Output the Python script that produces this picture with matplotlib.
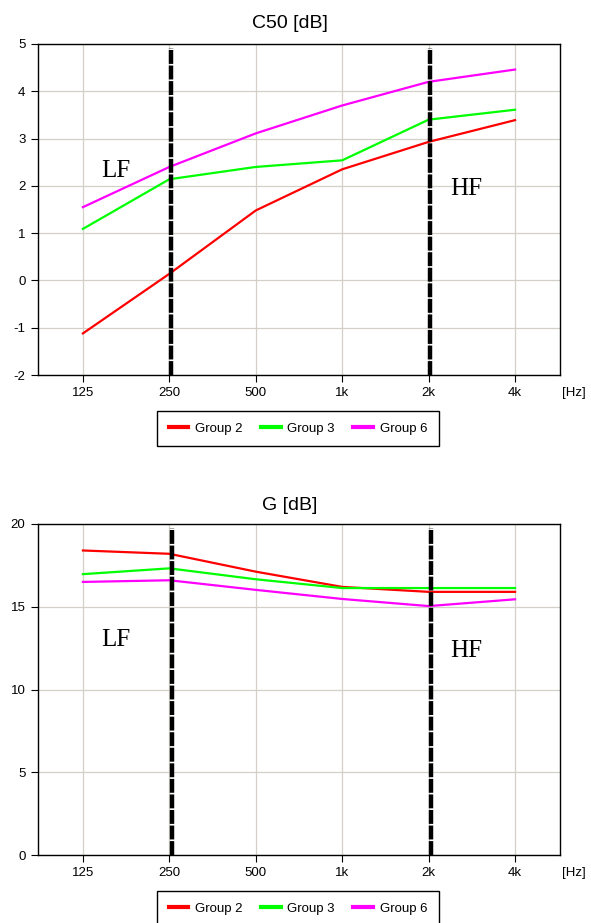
import matplotlib
matplotlib.use('Agg')
from matplotlib import pyplot as plt

plt.rcParams['font.family'] = ['Liberation Sans', 'DejaVu Sans']
plt.rcParams['lines.scale_dashes'] = False
plt.rcParams['axes.unicode_minus'] = False

freqs = ['125', '250', '500', '1k', '2k', '4k']
groups = ['Group 2', 'Group 3', 'Group 6']
colors = ['#ff0000', '#00ff00', '#ff00ff']

c50_group2 = [-1.12, 0.14, 1.48, 2.35, 2.93, 3.39]
c50_group3 = [1.09, 2.14, 2.40, 2.54, 3.40, 3.61]
c50_group6 = [1.55, 2.40, 3.11, 3.70, 4.20, 4.46]

g_group2 = [18.4, 18.2, 17.12, 16.2, 15.9, 15.9]
g_group3 = [16.97, 17.32, 16.66, 16.13, 16.13, 16.13]
g_group6 = [16.5, 16.6, 16.02, 15.47, 15.04, 15.45]

fig = plt.figure(figsize=(5.91, 9.23), dpi=100)


def draw(rect, title, title_y, series, ylim, yticks, lf_y, hf_y, leg_y, band_off):
    ax = fig.add_axes(rect)
    x = list(range(len(freqs)))
    for vals, col, name in zip(series, colors, groups):
        ax.plot(x, vals, color=col, lw=1.6, label=name, zorder=3)
    for pos in (1 + band_off, 4 + band_off):
        ax.axvline(pos, ymin=0, ymax=0.988, color='black', lw=3.2,
                   dashes=(10, 1.2), zorder=4)
    ax.set_xlim(-0.52, 5.52)
    ax.set_ylim(*ylim)
    ax.set_xticks(x)
    ax.set_xticklabels(freqs)
    ax.set_yticks(yticks)
    ax.grid(True, color='#d4d0c8', lw=0.9)
    ax.set_axisbelow(True)
    ax.tick_params(labelsize=9.5, length=5, width=0.8, pad=4, color='black')
    for s in ax.spines.values():
        s.set_color('black')
        s.set_linewidth(1.0)
    ax.text(1.004, -0.055, '[Hz]', transform=ax.transAxes, fontsize=9.5,
            ha='left', va='center')
    ax.text(0.38, lf_y, 'LF', fontsize=18, family='Liberation Serif',
            ha='center', va='center')
    ax.text(4.44, hf_y, 'HF', fontsize=18, family='Liberation Serif',
            ha='center', va='center')
    fig.text(290 / 591, title_y, title, fontsize=14, ha='center', va='center')
    fig.legend(*ax.get_legend_handles_labels(), loc='center',
               bbox_to_anchor=(298 / 591, leg_y), ncol=3, fontsize=9.5,
               frameon=True, fancybox=False, shadow=False, edgecolor='black',
               framealpha=1, handlelength=1.5, handletextpad=0.5,
               columnspacing=1.4, borderpad=0.9)
    for line in fig.legends[-1].get_lines():
        line.set_linewidth(3)
    return ax


draw([38 / 591, 1 - 375 / 923, 522 / 591, 331 / 923], 'C50 [dB]', 1 - 23 / 923,
     [c50_group2, c50_group3, c50_group6], (-2, 5), range(-2, 6),
     2.32, 1.93, 1 - 428.5 / 923, 0.02)

draw([38 / 591, 1 - 855 / 923, 522 / 591, 331 / 923], 'G [dB]', 1 - 505 / 923,
     [g_group2, g_group3, g_group6], (0, 20), range(0, 21, 5),
     13.0, 12.3, 1 - 908.5 / 923, 0.03)

fig.savefig('out.png', dpi=100)
plt.close(fig)
